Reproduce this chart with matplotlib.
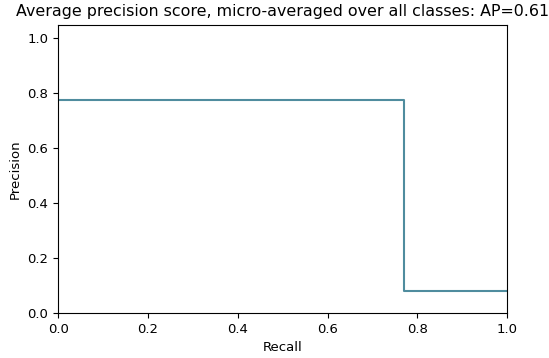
import matplotlib
matplotlib.use('Agg')
import matplotlib.pyplot as plt

# precision-recall curve values (micro-averaged)
recall = [0.0, 0.77, 1.0]
precision = [0.775, 0.08, 0.08]
ap = 0.61

fig = plt.figure(figsize=(5.49, 3.58), dpi=100)
ax = fig.add_axes([0.106, 0.126, 0.818, 0.805])

ax.step(recall, precision, where='post', color='#4f8c9e', linewidth=1.5)

ax.set_xlabel('Recall', fontsize=9.5)
ax.set_ylabel('Precision', fontsize=9.5)
ax.tick_params(labelsize=9.5)
ax.set_ylim([0.0, 1.05])
ax.set_xlim([0.0, 1.0])
ax.set_title('Average precision score, micro-averaged over all classes: AP={0:0.2f}'.format(ap),
             fontsize=11.4)

fig.savefig('out.png', dpi=100)
